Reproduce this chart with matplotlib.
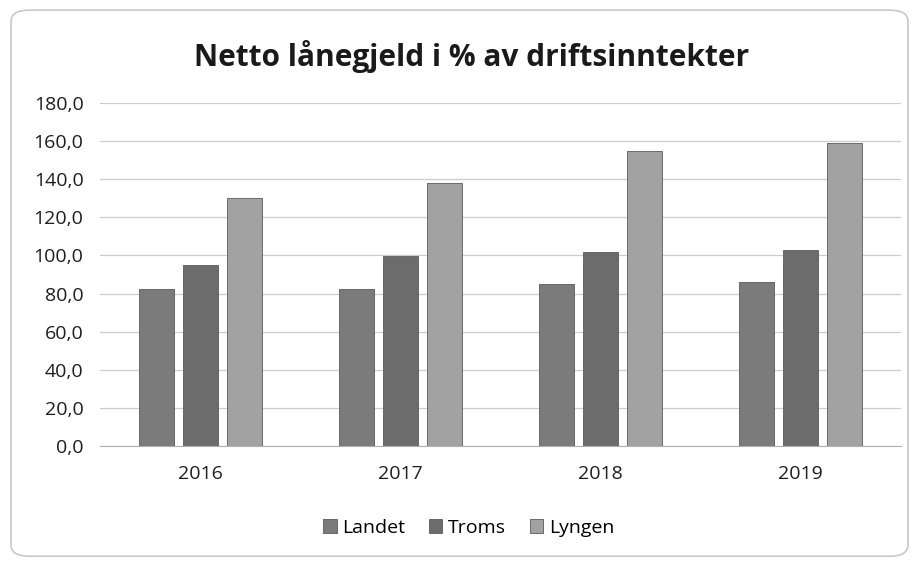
import matplotlib
matplotlib.use("Agg")
import matplotlib.pyplot as plt
from matplotlib.patches import FancyBboxPatch, Patch
import numpy as np

years = ["2016", "2017", "2018", "2019"]
series = ["Landet", "Troms", "Lyngen"]
landet = [82.5, 82.5, 85.0, 86.0]
troms = [95.0, 99.5, 102.0, 103.0]
lyngen = [130.0, 138.0, 155.0, 159.0]
colors = ["#7b7b7b", "#6c6c6c", "#a2a2a2"]
yticks = [0, 20, 40, 60, 80, 100, 120, 140, 160, 180]

plt.rcParams['font.family'] = ['Open Sans', 'DejaVu Sans']

fig = plt.figure(figsize=(9.19, 5.63), dpi=100)
fig.patch.set_facecolor("white")
border = FancyBboxPatch((0.012, 0.012), 0.976, 0.97, boxstyle="round,pad=0,rounding_size=0.02",
                        transform=fig.transFigure, facecolor="none", edgecolor="#c8c8c8", lw=1.2,
                        zorder=-5)
fig.patches.append(border)

ax = fig.add_axes([0.109, 0.208, 0.871, 0.609])
ax.set_facecolor("none")
x = np.arange(len(years))
w = 0.175
off = 0.22
for i, (vals, c, name) in enumerate(zip([landet, troms, lyngen], colors, series)):
    ax.bar(x + (i - 1) * off, vals, width=w, color=c, edgecolor="#5a5a5a", linewidth=0.6, label=name, zorder=3)

ax.set_xlim(-0.5, 3.5)
ax.set_ylim(0, 180)
ax.set_yticks(yticks)
ax.set_yticklabels([f"{v:.1f}".replace(".", ",") for v in yticks], fontsize=14, color="#1e1e1e")
ax.set_xticks(x)
ax.set_xticklabels(years, fontsize=14, color="#1e1e1e")
ax.tick_params(axis="both", length=0)
ax.tick_params(axis="x", pad=14)
ax.tick_params(axis="y", pad=12)
ax.grid(axis="y", color="#cccccc", linewidth=0.9, zorder=0)
ax.set_axisbelow(True)
for s in ["top", "right", "left"]:
    ax.spines[s].set_visible(False)
ax.spines["bottom"].set_color("#b0b0b0")

fig.text(0.513, 0.9, "Netto lånegjeld i % av driftsinntekter", ha="center", va="center",
         fontsize=21.5, fontweight="bold", color="#1a1a1a")

handles = [Patch(facecolor=c, edgecolor="#5a5a5a", linewidth=0.6) for c in colors]
fig.legend(handles, series, loc="center", bbox_to_anchor=(0.51, 0.062), ncol=3, frameon=False,
           fontsize=14, handlelength=0.7, handleheight=0.7, handletextpad=0.3, columnspacing=1.2)

fig.savefig("out.png", dpi=100)
